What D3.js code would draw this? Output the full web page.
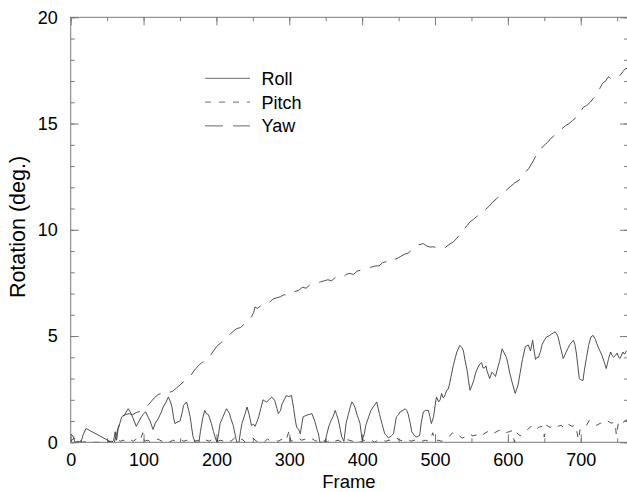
<!DOCTYPE html>
<html>
<head>
<meta charset="utf-8">
<script src="https://cdn.jsdelivr.net/npm/d3@7"></script>
<style>
  html, body { margin: 0; padding: 0; background: #fff; }
  svg { display: block; font-family: "Liberation Sans", Arial, Helvetica, sans-serif; }
</style>
</head>
<body>
<svg id="chart" width="627" height="492"></svg>
<script>
// Head rotation per frame, in degrees: [frame, value]
const roll = [[0,0.4],[3,0.3],[6,0],[10,0.05],[14,0],[17,0.35],[21,0.65],[56,0],[59,0.1],[61,0.5],[63,0.1],[65,0.6],[70,1.2],[74,1.3],[79,1.58],[83,1.35],[86,1.1],[90,0.75],[93,0.95],[97,1.2],[100,1.35],[103,1.43],[106,1.2],[109,1.0],[113,0.6],[116,0.9],[120,1.1],[124,1.4],[127,1.66],[131,1.9],[134,2.13],[137,1.9],[139,1.66],[141,1.2],[143,0.88],[146,0.95],[150,1.0],[153,1.4],[155,1.74],[159,1.9],[162,1.5],[164,1.2],[166,0.7],[168,0.25],[171,0],[176,0],[178,0.5],[181,1.1],[184,1.5],[186,1.35],[189,1.3],[191,1.1],[193,0.9],[196,0.5],[199,0.15],[201,0],[203,0.4],[205,0.88],[209,1.2],[212,1.45],[214,1.58],[218,1.35],[220,1.1],[223,0.8],[226,0.3],[228,0],[231,0],[233,0.5],[235,0.88],[239,1.3],[242,1.66],[245,1.3],[248,0.8],[251,0.85],[253,0.75],[256,1.0],[258,1.2],[261,1.6],[264,2.0],[266,1.95],[269,1.9],[272,2.0],[276,2.13],[280,1.97],[283,1.6],[285,1.35],[288,1.5],[290,1.8],[293,2.0],[296,2.2],[299,2.15],[303,2.2],[306,1.6],[308,1.1],[310,0.72],[313,0.6],[315,0.4],[317,0.8],[319,1.2],[322,1.25],[326,1.3],[331,1.35],[335,1.0],[338,0.6],[340,0.4],[342,0],[349,0],[351,0.3],[354,0.72],[357,1.0],[360,1.2],[363,1.5],[365,1.3],[367,1.1],[370,0.6],[372,0.25],[375,0.05],[378,0.9],[381,1.3],[384,1.7],[386,1.9],[388,1.8],[390,1.66],[393,1.3],[397,0.9],[400,0.1],[403,0.4],[405,0.8],[409,1.2],[412,1.5],[416,1.7],[420,1.9],[422,1.6],[424,1.3],[427,0.9],[431,0.4],[434,0.3],[436,0.2],[440,0.3],[443,0.4],[445,0.8],[447,1.2],[450,1.3],[452,1.43],[456,1.5],[459,1.58],[461,1.5],[463,1.35],[466,0.9],[468,0.5],[472,0.3],[475,0.25],[479,0.33],[481,0.9],[484,1.43],[487,1.5],[491,1.5],[493,1.2],[495,0.88],[498,1.2],[500,1.7],[502,2.13],[505,1.9],[507,2.0],[509,2.3],[511,2.1],[513,2.15],[516,2.45],[518,2.5],[520,2.75],[522,3.1],[525,3.6],[528,4.0],[530,4.25],[534,4.56],[537,4.45],[539,4.3],[541,3.9],[544,3.4],[546,2.9],[548,2.45],[551,2.7],[553,2.9],[556,3.3],[560,3.6],[562,3.7],[564,3.75],[566,3.5],[568,3.5],[570,3.6],[571,3.4],[575,3.0],[578,3.3],[581,3.2],[583,3.1],[586,3.5],[589,3.86],[592,4.4],[595,4.2],[598,4.0],[600,3.7],[603,3.2],[606,2.8],[610,2.3],[612,2.5],[614,2.7],[617,3.3],[620,3.9],[624,4.5],[628,4.58],[631,4.3],[634,4.8],[636,4.3],[638,3.9],[640,4.0],[642,4.0],[645,4.3],[647,4.6],[650,4.8],[653,4.96],[656,5.0],[660,5.1],[665,5.2],[667,5.1],[669,4.95],[672,4.5],[676,3.94],[680,4.25],[685,4.6],[690,4.8],[692,4.6],[694,4.2],[696,3.6],[698,3.0],[700,2.95],[703,2.9],[705,3.4],[708,4.0],[711,4.6],[714,4.96],[717,5.03],[720,4.85],[722,4.65],[725,4.4],[729,4.1],[732,3.8],[735,3.47],[738,3.9],[741,4.25],[743,4.1],[745,4.0],[748,4.1],[750,4.2],[752,4.0],[754,3.95],[756,4.1],[758,4.25],[760,4.15],[763,4.3],[765,4.35]];

const pitch = [[0,0.05],[5,0.2],[8,0.0],[12,0.1],[16,0.0],[22,0.05],[30,0.0],[40,0.0],[50,0.02],[56,0.05],[60,0.0],[64,0.15],[68,0.05],[72,0.1],[77,0.0],[82,0.12],[86,0.05],[90,0.15],[95,0.05],[99,0.45],[101,0.05],[106,0.1],[110,0.0],[115,0.1],[120,0.15],[125,0.05],[130,0.12],[135,0.0],[140,0.1],[145,0.05],[150,0.15],[155,0.05],[160,0.1],[165,0.2],[170,0.05],[175,0.1],[180,0.0],[185,0.12],[190,0.05],[195,0.15],[200,0.0],[205,0.1],[210,0.05],[215,0.15],[220,0.05],[225,0.2],[230,0.05],[235,0.15],[240,0.0],[245,0.1],[250,0.2],[255,0.05],[260,0.1],[265,0.0],[270,0.15],[275,0.05],[280,0.1],[285,0.05],[290,0.15],[295,0.05],[300,0.55],[302,0.05],[307,0.1],[312,0.2],[317,0.1],[322,0.15],[327,0.05],[332,0.15],[337,0.05],[342,0.2],[347,0.1],[352,0.0],[357,0.15],[362,0.05],[367,0.1],[372,0.0],[377,0.15],[382,0.1],[387,0.05],[392,0.15],[397,0.0],[402,0.1],[407,0.05],[412,0.12],[417,0.0],[422,0.1],[427,0.15],[432,0.05],[437,0.1],[442,0.05],[447,0.2],[452,0.1],[457,0.05],[462,0.15],[467,0.05],[472,0.1],[477,0.15],[482,0.05],[487,0.1],[492,0.05],[497,0.45],[499,0.05],[504,0.1],[509,0.05],[514,0.15],[519,0.25],[524,0.45],[527,0.3],[532,0.35],[537,0.2],[542,0.25],[547,0.4],[552,0.3],[557,0.35],[562,0.25],[567,0.4],[572,0.5],[577,0.35],[582,0.45],[587,0.55],[592,0.6],[597,0.45],[602,0.5],[606,0.55],[609,0.0],[612,0.45],[617,0.3],[622,0.5],[627,0.6],[632,0.75],[637,0.55],[642,0.7],[647,0.75],[650,0.25],[653,0.8],[658,0.7],[663,0.85],[668,0.75],[673,0.8],[678,0.65],[683,0.85],[688,0.75],[693,0.8],[697,0.1],[699,0.6],[702,0.7],[707,0.75],[712,1.05],[717,0.95],[722,0.8],[727,0.9],[732,0.85],[737,1.0],[742,0.9],[747,0.95],[749,0.3],[752,1.0],[757,0.9],[762,1.05],[765,1.0]];

const yaw = [[60,0.0],[63,0.4],[66,0.8],[70,1.15],[75,1.3],[80,1.35],[85,1.3],[90,1.4],[95,1.45],[100,1.5],[106,1.75],[110,1.9],[115,2.1],[120,2.25],[125,2.3],[130,2.25],[135,2.35],[140,2.4],[145,2.55],[150,2.7],[155,2.85],[159,3.0],[164,3.1],[170,3.4],[175,3.6],[180,3.75],[185,3.85],[189,3.95],[194,4.2],[200,4.5],[205,4.65],[210,4.8],[214,4.96],[219,5.1],[224,5.25],[228,5.35],[233,5.4],[238,5.55],[244,5.74],[248,5.9],[251,6.1],[253,6.37],[256,6.3],[260,6.4],[264,6.45],[268,6.5],[273,6.6],[278,6.75],[283,6.8],[288,6.85],[293,6.95],[298,6.9],[303,7.0],[308,7.1],[313,7.15],[318,7.3],[323,7.25],[328,7.4],[333,7.45],[338,7.5],[343,7.55],[348,7.6],[353,7.65],[358,7.6],[363,7.75],[368,7.8],[373,7.75],[378,7.9],[383,7.95],[388,7.9],[393,8.05],[398,8.1],[403,8.15],[408,8.2],[413,8.25],[418,8.3],[423,8.3],[428,8.45],[433,8.5],[438,8.45],[443,8.6],[448,8.65],[453,8.75],[458,8.85],[463,8.9],[468,9.05],[473,9.2],[478,9.3],[484,9.35],[488,9.25],[493,9.19],[498,9.2],[503,9.15],[508,9.2],[514,9.16],[519,9.3],[525,9.43],[530,9.6],[534,9.8],[539,10.0],[544,10.2],[548,10.37],[553,10.5],[558,10.65],[564,10.84],[569,10.95],[574,11.1],[579,11.3],[584,11.45],[589,11.6],[594,11.75],[599,11.9],[604,12.05],[609,12.2],[614,12.3],[619,12.45],[624,12.7],[629,12.9],[634,13.2],[639,13.5],[644,13.75],[649,13.95],[654,14.1],[659,14.3],[664,14.45],[669,14.6],[674,14.75],[679,14.9],[684,15.0],[689,15.15],[694,15.3],[699,15.47],[703,15.75],[708,15.85],[713,16.0],[717,16.17],[722,16.35],[726,16.64],[730,16.9],[734,17.0],[738,17.2],[742,17.1],[746,17.2],[750,17.25],[754,17.27],[758,17.45],[761,17.58],[765,17.6]];

const xMajorTicks = [0, 100, 200, 300, 400, 500, 600, 700];
const yMajorTicks = [0, 5, 10, 15, 20];
const seriesNames = ["Roll", "Pitch", "Yaw"];
const seriesDash = [null, "6,8", "18,10"];

const svg = d3.select("#chart");
const plotLeft = 70.7, plotRight = 628.1, plotTop = 17.3, plotBottom = 442.3;

const x = d3.scaleLinear().domain([0, 765]).range([plotLeft, plotRight]);
const y = d3.scaleLinear().domain([0, 20]).range([plotBottom, plotTop]);

const axisColor = "#7a7a7a";
const inkColor = "#3c3c3c";

// clip for the data lines
svg.append("defs").append("clipPath").attr("id", "plotClip")
  .append("rect").attr("x", plotLeft).attr("y", plotTop)
  .attr("width", plotRight - plotLeft).attr("height", plotBottom - plotTop);

// plot frame
svg.append("rect")
  .attr("x", plotLeft).attr("y", plotTop)
  .attr("width", plotRight - plotLeft).attr("height", plotBottom - plotTop)
  .attr("fill", "none").attr("stroke", axisColor).attr("stroke-width", 1);

const xMinor = d3.range(0, 766, 50);
const yMinor = d3.range(0, 21, 1);

function styleAxis(g) {
  g.select(".domain").remove();
  g.selectAll(".tick line").attr("stroke", axisColor);
  g.selectAll(".tick text").attr("fill", "#000").style("font-size", "18px")
    .style("font-family", '"Liberation Sans", Arial, sans-serif');
}

// bottom axis: inward ticks, labelled majors
svg.append("g").attr("transform", `translate(0,${plotBottom})`)
  .call(d3.axisBottom(x).tickValues(xMinor).tickSize(-4).tickFormat(""))
  .call(styleAxis);
svg.append("g").attr("transform", `translate(0,${plotBottom})`)
  .call(d3.axisBottom(x).tickValues(xMajorTicks).tickSizeInner(-8).tickSizeOuter(0).tickPadding(11).tickFormat(d3.format("d")))
  .call(styleAxis);

// top axis: inward ticks
svg.append("g").attr("transform", `translate(0,${plotTop})`)
  .call(d3.axisTop(x).tickValues(xMinor).tickSize(-4).tickFormat(""))
  .call(styleAxis);
svg.append("g").attr("transform", `translate(0,${plotTop})`)
  .call(d3.axisTop(x).tickValues(xMajorTicks).tickSize(-8).tickFormat(""))
  .call(styleAxis);

// left axis
svg.append("g").attr("transform", `translate(${plotLeft},0)`)
  .call(d3.axisLeft(y).tickValues(yMinor).tickSize(-4).tickFormat(""))
  .call(styleAxis);
svg.append("g").attr("transform", `translate(${plotLeft},0)`)
  .call(d3.axisLeft(y).tickValues(yMajorTicks).tickSizeInner(-8).tickSizeOuter(0).tickPadding(13).tickFormat(d3.format("d")))
  .call(styleAxis);

// right axis
svg.append("g").attr("transform", `translate(${plotRight},0)`)
  .call(d3.axisRight(y).tickValues(yMinor).tickSize(-4).tickFormat(""))
  .call(styleAxis);
svg.append("g").attr("transform", `translate(${plotRight},0)`)
  .call(d3.axisRight(y).tickValues(yMajorTicks).tickSize(-8).tickFormat(""))
  .call(styleAxis);

// data lines
const line = d3.line().x(d => x(d[0])).y(d => y(d[1]));
const plot = svg.append("g").attr("clip-path", "url(#plotClip)");
[roll, pitch, yaw].forEach((data, i) => {
  plot.append("path")
    .datum(data)
    .attr("d", line)
    .attr("fill", "none")
    .attr("stroke", inkColor)
    .attr("stroke-width", 0.9)
    .attr("stroke-linejoin", "round")
    .attr("stroke-dasharray", seriesDash[i]);
});

// legend
const legend = svg.append("g");
seriesNames.forEach((name, i) => {
  const ly = 78.3 + i * 23.8;
  legend.append("line")
    .attr("x1", 205).attr("x2", 250).attr("y1", ly).attr("y2", ly)
    .attr("stroke", "#6a6a6a").attr("stroke-width", 1)
    .attr("stroke-dasharray", seriesDash[i]);
  legend.append("text")
    .attr("x", 261.5).attr("y", ly + 6.5)
    .attr("fill", "#000").style("font-size", "18px")
    .text(name);
});

// axis titles
svg.append("text")
  .attr("x", (plotLeft + plotRight) / 2 - 0.5).attr("y", 487.5)
  .attr("text-anchor", "middle").attr("fill", "#000")
  .style("font-size", "18.5px")
  .text("Frame");

svg.append("text")
  .attr("transform", `translate(25,227) rotate(-90)`)
  .attr("text-anchor", "middle").attr("fill", "#000")
  .style("font-size", "21.5px")
  .text("Rotation (deg.)");
</script>
</body>
</html>
